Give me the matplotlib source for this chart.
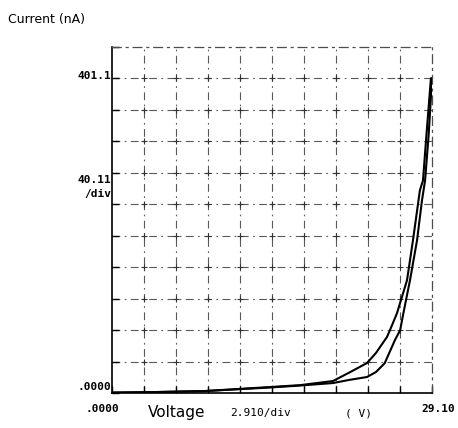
import numpy as np
import matplotlib
matplotlib.use("Agg")
import matplotlib.pyplot as plt

# Data
x_div = 2.910   # V per division
y_div = 40.11   # nA per division
n_xdiv = 10
n_ydiv = 11

v_up = [0.0, 4.0, 8.46, 14.37, 17.1, 20.1, 21.5, 23.19, 24.0, 25.0, 25.28, 25.92, 26.83, 27.37, 28.0, 28.28, 28.6, 29.0]
i_up = [0.5, 1.2, 2.5, 7.6, 10.0, 15.3, 25.5, 38.2, 51.0, 71.3, 80.2, 101.9, 143.9, 194.8, 258.5, 271.0, 330.0, 401.1]

v_dn = [0.0, 4.0, 8.46, 14.37, 17.1, 20.1, 21.5, 23.19, 24.0, 24.8, 25.73, 26.2, 26.5, 27.1, 27.74, 28.19, 28.47, 28.8, 29.1]
i_dn = [0.5, 1.2, 2.5, 7.0, 9.5, 12.7, 16.5, 20.4, 26.7, 38.0, 67.5, 80.0, 101.9, 143.9, 194.8, 245.7, 271.0, 330.0, 401.1]

fig = plt.figure(figsize=(4.58, 4.28), dpi=100)
ax = fig.add_axes([112/458, 1-393/428, 320/458, 346/428])

xmax = x_div * n_xdiv
ymax = y_div * n_ydiv
ax.set_xlim(0, xmax)
ax.set_ylim(0, ymax)

xt = np.arange(n_xdiv + 1) * x_div
yt = np.arange(n_ydiv + 1) * y_div
ax.set_xticks(xt)
ax.set_yticks(yt)
ax.set_xticklabels([])
ax.set_yticklabels([])
ax.tick_params(axis='both', direction='in', length=5, width=1.0, color='black')

dash = (0, (7, 4, 1.5, 4))
for x in xt[1:-1]:
    ax.axvline(x, color='0.35', lw=0.8, linestyle=dash, zorder=1)
for y in yt[1:-1]:
    ax.axhline(y, color='0.35', lw=0.8, linestyle=dash, zorder=1)
XX, YY = np.meshgrid(xt[1:-1], yt[1:-1])
ax.plot(XX.ravel(), YY.ravel(), linestyle='none', marker='+', ms=4, mew=0.8, color='0.2', zorder=1)

for s in ['top', 'right']:
    ax.spines[s].set_linestyle(dash)
    ax.spines[s].set_color('0.3')
    ax.spines[s].set_linewidth(0.9)
for s in ['left', 'bottom']:
    ax.spines[s].set_linewidth(1.2)

ax.plot(v_up, i_up, color='black', lw=1.5, zorder=3)
ax.plot(v_dn, i_dn, color='black', lw=1.5, zorder=3)

mono = dict(family='DejaVu Sans Mono', fontweight='bold', fontsize=8)
fig.text(8/458, 1-20/428, "Current (nA)", fontsize=9, family='DejaVu Sans', va='center', ha='left')
fig.text(111/458, 1-76/428, "401.1", ha='right', va='center', **mono)
fig.text(111/458, 1-180/428, "40.11", ha='right', va='center', **mono)
fig.text(111/458, 1-194/428, "/div", ha='right', va='center', **mono)
fig.text(111/458, 1-387/428, ".0000", ha='right', va='center', **mono)
fig.text(86/458, 1-409/428, ".0000", ha='left', va='center', **mono)
fig.text(455/458, 1-409/428, "29.10", ha='right', va='center', **mono)
fig.text(148/458, 1-413/428, "Voltage", fontsize=11, family='DejaVu Sans', ha='left', va='center')
fig.text(230/458, 1-413/428, "2.910/div", ha='left', va='center', family='DejaVu Sans Mono', fontsize=8)
fig.text(345/458, 1-413/428, "( V)", ha='left', va='center', family='DejaVu Sans Mono', fontsize=8)

fig.savefig("out.png", dpi=100)
